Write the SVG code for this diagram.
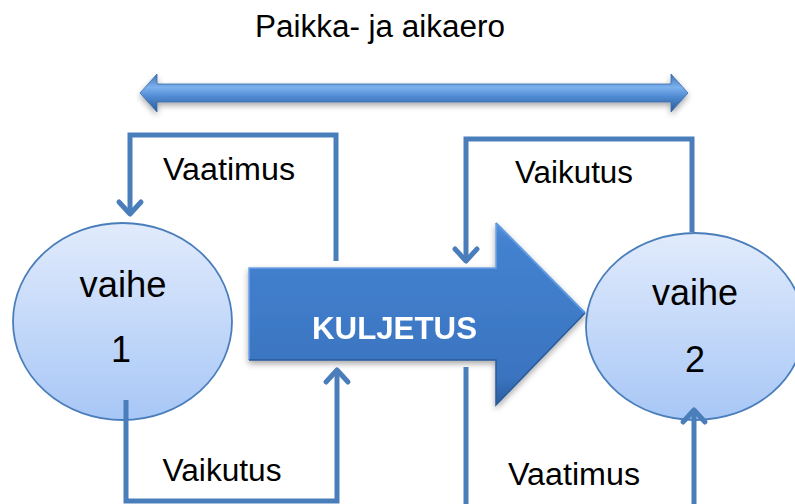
<svg xmlns="http://www.w3.org/2000/svg" width="795" height="504" viewBox="0 0 795 504">
<defs>
<style>
.lbl{font-family:"Liberation Sans",Arial,sans-serif;font-size:31px;fill:#000;text-anchor:middle}
.big{font-family:"Liberation Sans",Arial,sans-serif;font-size:36px;fill:#000;text-anchor:middle}
.kul{font-family:"Liberation Sans",Arial,sans-serif;font-size:31px;font-weight:bold;fill:#fff;text-anchor:middle}
.conn{fill:none;stroke:#4a7ebb;stroke-width:5;stroke-linejoin:miter}
.ell{stroke:#4a7ebb;stroke-width:1.8;fill:url(#ellG)}
</style>
<linearGradient id="ellG" x1="0" y1="0" x2="0" y2="1">
<stop offset="0" stop-color="#e1ebfc"/>
<stop offset="1" stop-color="#a8c7f6"/>
</linearGradient>
<linearGradient id="dblG" x1="0" y1="0" x2="0" y2="1">
<stop offset="0" stop-color="#3f72b4"/>
<stop offset="0.35" stop-color="#7cb1ee"/>
<stop offset="0.6" stop-color="#4f8ad2"/>
<stop offset="1" stop-color="#2c5a95"/>
</linearGradient>
<linearGradient id="bigG" x1="0" y1="0" x2="0" y2="1">
<stop offset="0" stop-color="#5a94dc"/>
<stop offset="0.08" stop-color="#4482d0"/>
<stop offset="0.85" stop-color="#3a74c0"/>
<stop offset="1" stop-color="#2b5c9e"/>
</linearGradient>
<filter id="sh" x="-10%" y="-10%" width="120%" height="130%">
<feGaussianBlur in="SourceAlpha" stdDeviation="3"/>
<feOffset dx="0" dy="3" result="b"/>
<feComponentTransfer><feFuncA type="linear" slope="0.35"/></feComponentTransfer>
<feMerge><feMergeNode/><feMergeNode in="SourceGraphic"/></feMerge>
</filter>
<marker id="chev" markerUnits="userSpaceOnUse" markerWidth="30" markerHeight="30" refX="0" refY="0" orient="auto" overflow="visible">
<path d="M-12,-11 L0,0 L-12,11" fill="none" stroke="#4a7ebb" stroke-width="5" stroke-linecap="round" stroke-linejoin="round"/>
</marker>
</defs>
<rect width="795" height="504" fill="#fff"/>

<g id="title">
<text class="lbl" x="380" y="37" textLength="250" lengthAdjust="spacingAndGlyphs">Paikka- ja aikaero</text>
</g>

<g id="timeArrow" filter="url(#sh)">
<polygon points="140,93 157,74 157,84 671,84 671,74 688,93 671,112 671,102 157,102 157,112" fill="url(#dblG)" stroke="#3a6aa8" stroke-width="0.8"/>
</g>

<g id="vaihe1">
<ellipse class="ell" cx="122.5" cy="321.5" rx="109.5" ry="98.5"/>
<text class="big" x="123" y="297" textLength="87" lengthAdjust="spacingAndGlyphs">vaihe</text>
<text class="big" x="121" y="362">1</text>
</g>

<g id="vaihe2">
<ellipse class="ell" cx="695" cy="326.5" rx="109" ry="93.5"/>
<text class="big" x="695" y="305" textLength="86" lengthAdjust="spacingAndGlyphs">vaihe</text>
<text class="big" x="695" y="372">2</text>
</g>

<g id="kuljetus" filter="url(#sh)">
<polygon points="249,268 496,268 496,223 585,313 496,405 496,360 249,360" fill="url(#bigG)"/>
<polyline points="249,360 249,268 496,268 496,223" fill="none" stroke="#6ea3e6" stroke-width="1.5"/>
<polyline points="496,223 585,313" fill="none" stroke="#5e99e2" stroke-width="2"/>
<polyline points="585,313 496,405 496,360 249,360" fill="none" stroke="#2a5a98" stroke-width="1.5"/>
<text class="kul" x="394.5" y="339" textLength="165" lengthAdjust="spacingAndGlyphs">KULJETUS</text>
</g>

<g id="connectors">
<path class="conn" d="M336,261 V135 H130 V214" marker-end="url(#chev)"/>
<path class="conn" d="M126,400 V501 H337 V370" marker-end="url(#chev)"/>
<path class="conn" d="M692,232 V139 H466 V261" marker-end="url(#chev)"/>
<path class="conn" d="M466,367 V512 H694 V410" marker-end="url(#chev)"/>
</g>

<g id="labels">
<text class="lbl" x="229" y="180" textLength="132" lengthAdjust="spacingAndGlyphs">Vaatimus</text>
<text class="lbl" x="574" y="183" textLength="118" lengthAdjust="spacingAndGlyphs">Vaikutus</text>
<text class="lbl" x="222" y="481" textLength="119" lengthAdjust="spacingAndGlyphs">Vaikutus</text>
<text class="lbl" x="574" y="485" textLength="132" lengthAdjust="spacingAndGlyphs">Vaatimus</text>
</g>
</svg>
